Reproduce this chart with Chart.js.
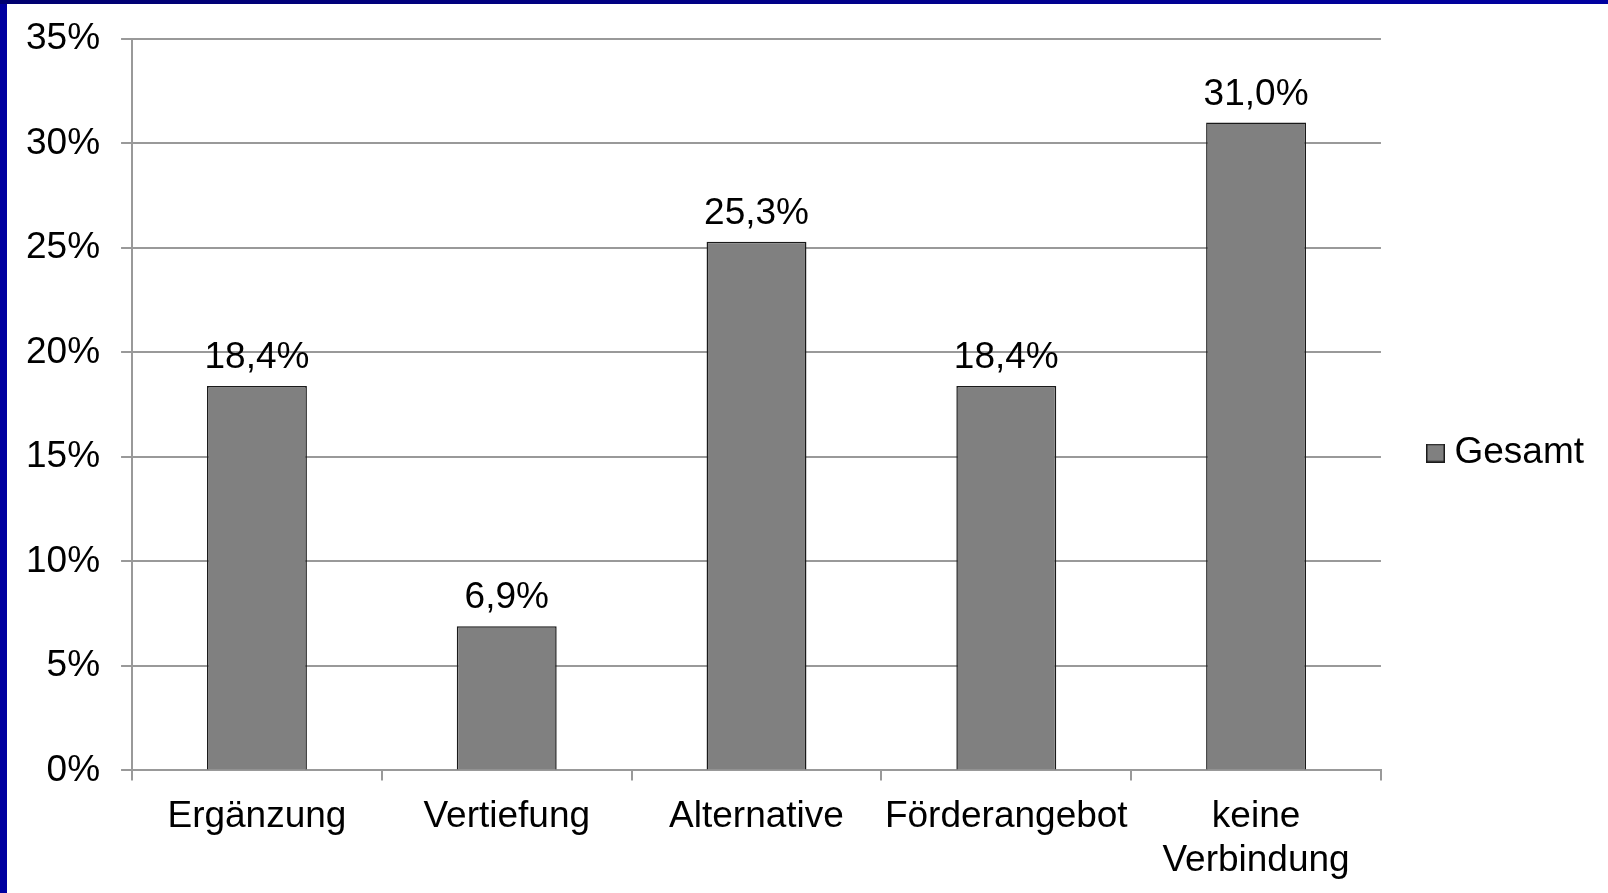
<!DOCTYPE html>
<html>
<head>
<meta charset="utf-8">
<script src="https://cdn.jsdelivr.net/npm/chart.js@4.4.1/dist/chart.umd.min.js"></script>
<style>
    html, body { margin: 0; padding: 0; background: #fff; }
    #frame {
        position: absolute; left: 0; top: 0; width: 1601px; height: 889px;
        border-left: 7px solid #0000a0;
        border-top: 4px solid #000090;
        background: #fff;
    }
    #topbar {
        position: absolute; left: 0; top: 0; width: 1608px; height: 4px;
        background: linear-gradient(to right, #000070, #0000a0);
    }
    #chartBox { position: relative; width: 1601px; height: 889px; }
</style>
</head>
<body>
<div id="frame">
    <div id="chartBox"><canvas id="gesamtChart"></canvas></div>
</div>
<div id="topbar"></div>
<script>
    const categories = ['Ergänzung', 'Vertiefung', 'Alternative', 'Förderangebot', ['keine', 'Verbindung']];
    const gesamtValues = [18.4, 6.9, 25.3, 18.4, 31.0];
    const yTicks = [0, 5, 10, 15, 20, 25, 30, 35];

    const fontFamily = '"Liberation Sans", Arial, sans-serif';
    const fontSize = 37;

    // small square for the legend (office style: box close to the text)
    let legendBox = document.createElement('canvas');
    legendBox.width = 19;
    legendBox.height = 19;
    let lb = legendBox.getContext('2d');
    lb.fillStyle = '#808080';
    lb.fillRect(0, 0, 19, 19);
    lb.strokeStyle = '#1a1a1a';
    lb.lineWidth = 1.5;
    lb.strokeRect(0.75, 0.75, 17.5, 17.5);

    // value labels over the bars
    const barValueLabels = {
        id: 'barValueLabels',
        afterDatasetsDraw(chart){
            let ctx = chart.ctx;
            let meta = chart.getDatasetMeta(0);
            ctx.save();
            ctx.font = fontSize + 'px ' + fontFamily;
            ctx.fillStyle = '#000';
            ctx.textAlign = 'center';
            ctx.textBaseline = 'alphabetic';
            meta.data.forEach(function(bar, i){
                let txt = gesamtValues[i].toFixed(1).replace('.', ',') + '%';
                ctx.fillText(txt, bar.x, bar.y - 18);
            });
            ctx.restore();
        }
    };

    // legend sits a bit higher than the middle of the canvas
    const legendNudge = {
        id: 'legendNudge',
        afterLayout(chart){
            if(chart.legend){
                chart.legend.top -= 6;
                chart.legend.bottom -= 6;
            }
        }
    };

    let ctx = document.getElementById('gesamtChart').getContext('2d');
    let gesamtChart = new Chart(ctx, {
        type: 'bar',
        data: {
            labels: categories,
            datasets: [{
                label: 'Gesamt',
                data: gesamtValues,
                backgroundColor: '#808080',
                borderColor: '#1a1a1a',
                borderWidth: 1.5,
                categoryPercentage: 1,
                barPercentage: 0.4
            }]
        },
        options: {
            responsive: true,
            maintainAspectRatio: false,
            animation: false,
            layout: {
                padding: { left: -2, top: 17, right: 14, bottom: -4 }
            },
            plugins: {
                legend: {
                    position: 'right',
                    align: 'center',
                    labels: {
                        color: '#000',
                        usePointStyle: true,
                        pointStyleWidth: 1,
                        boxHeight: 18,
                        padding: 54,
                        font: { family: fontFamily, size: fontSize },
                        generateLabels(chart){
                            return [{
                                text: 'Gesamt',
                                pointStyle: legendBox,
                                fillStyle: '#808080',
                                strokeStyle: '#1a1a1a',
                                lineWidth: 1.5,
                                datasetIndex: 0
                            }];
                        }
                    }
                },
                tooltip: { enabled: false }
            },
            scales: {
                x: {
                    grid: {
                        offset: true,
                        drawOnChartArea: false,
                        drawTicks: true,
                        tickLength: 10,
                        color: '#999',
                        lineWidth: 2
                    },
                    border: { color: '#999', width: 2 },
                    ticks: {
                        color: '#000',
                        padding: 15,
                        maxRotation: 0,
                        autoSkip: false,
                        font: { family: fontFamily, size: fontSize, lineHeight: 1.17 }
                    }
                },
                y: {
                    min: 0,
                    max: 35,
                    afterBuildTicks(scale){
                        scale.ticks = yTicks.map(v => ({ value: v }));
                    },
                    afterFit(scale){
                        // top label may overlap the upper margin
                        scale.paddingTop = 35;
                    },
                    grid: {
                        color: '#999',
                        lineWidth: 2,
                        tickLength: 11
                    },
                    border: { color: '#999', width: 2 },
                    ticks: {
                        color: '#000',
                        padding: 21,
                        font: { family: fontFamily, size: fontSize },
                        callback: function(v){ return v + '%'; }
                    }
                }
            }
        },
        plugins: [barValueLabels, legendNudge]
    });
</script>
</body>
</html>
